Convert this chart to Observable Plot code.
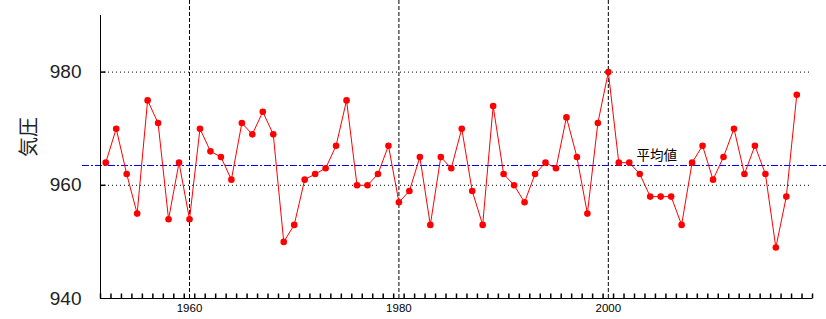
<!DOCTYPE html>
<html><head><meta charset="utf-8">
<script src="https://cdn.jsdelivr.net/npm/d3@7"></script>
<script src="https://cdn.jsdelivr.net/npm/@observablehq/plot@0.6"></script>
<style>body{margin:0;background:#fff;}</style>
</head><body><div id="chart"></div>
<script>
const startYear = 1952;
const pressure = [
  964,970,962,955,975,971,954,964,954,970,966,965,961,971,969,973,969,950,953,961,962,963,967,975,
  960,960,962,967,957,959,965,953,965,963,970,959,953,974,962,960,957,962,964,963,972,965,955,971,
  980,964,964,962,958,958,958,953,964,967,961,965,970,962,967,962,949,958,976
];
const yTicks = [940, 960, 980];
const gridY = [960, 980];
const labelYears = [1960, 1980, 2000];
const meanValue = 963.5;
const meanLabel = "平均値";
const meanLabelYear = 2005;
const yLabel = "気圧";
const xDomain = [1951.5, 2019.5];
const yDomain = [940, 990];

const data = pressure.map((v, i) => ({year: startYear + i, value: v}));
const tickPos = d3.range(xDomain[0], xDomain[1] + 0.01, 1);

const vTick = {draw(ctx) { ctx.moveTo(0, 0); ctx.lineTo(0, -5); }};
const hTick = {draw(ctx) { ctx.moveTo(0, 0); ctx.lineTo(5, 0); }};

const chart = Plot.plot({
  width: 826, height: 319,
  marginLeft: 100, marginRight: 14, marginTop: 15, marginBottom: 21,
  x: {domain: xDomain, label: null},
  y: {domain: yDomain, label: null},
  style: {fontFamily: "Liberation Sans, sans-serif", background: "white"},
  marks: [
    Plot.ruleY(gridY, {stroke: "black", strokeDasharray: "1,3"}),
    Plot.ruleX(labelYears, {stroke: "black", strokeDasharray: "4,2", insetTop: -15}),
    Plot.ruleY([meanValue], {stroke: "blue", strokeDasharray: "7,2,2,2", insetLeft: -18, insetRight: -14}),
    Plot.ruleX([xDomain[0]], {stroke: "black"}),
    Plot.ruleY([yDomain[0]], {stroke: "black"}),
    Plot.dot(tickPos, {x: d => d, y: () => yDomain[0], symbol: vTick, stroke: "black", fill: "none", r: 1}),
    Plot.dot(gridY, {x: () => xDomain[0], y: d => d, symbol: hTick, stroke: "black", fill: "none", r: 1}),
    Plot.line(data, {x: "year", y: "value", stroke: "red", strokeWidth: 1}),
    Plot.dot(data, {x: "year", y: "value", fill: "red", r: 3.3}),
    Plot.text([meanLabel], {x: () => meanLabelYear, y: () => meanValue, text: d => d, dx: -4, dy: -10, fontSize: 13.5, fontFamily: "Noto Sans CJK JP", fill: "black"}),
    Plot.text([yLabel], {frameAnchor: "left", text: d => d, rotate: -90, dx: -71, fontSize: 20, fontFamily: "Noto Sans CJK JP", fill: "#222"}),
    Plot.axisY(yTicks, {tickSize: 0, tickPadding: 19, fontSize: 19, fill: "#222", label: null}),
    Plot.axisX(labelYears, {tickSize: 0, tickPadding: 5, fontSize: 11.5, tickFormat: "d", fill: "black", label: null})
  ]
});
document.getElementById("chart").appendChild(chart);
</script>
</body></html>
